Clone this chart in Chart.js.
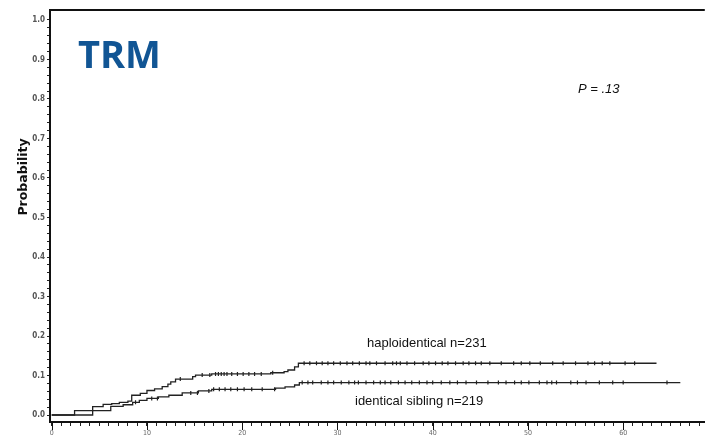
<!DOCTYPE html>
<html>
<head>
<meta charset="utf-8">
<script src="https://cdn.jsdelivr.net/npm/chart.js@4"></script>
<style>
  html, body { margin: 0; padding: 0; background: #fff; }
  #wrap { width: 710px; height: 443px; position: relative; }
</style>
</head>
<body>
<div id="wrap"><canvas id="trmChart"></canvas></div>
<script>
// Kaplan-Meier style cumulative incidence steps (months, probability)
const hapTimes  = [0, 4.3, 5.4, 6.3, 7.1, 8.0, 8.4, 9.3, 10.0, 10.8, 11.6, 12.2, 12.5, 13.0, 14.8, 15.1, 16.8, 23.0, 24.4, 24.8, 25.5, 25.9, 63.5];
const hapValues = [0, 0.021, 0.027, 0.029, 0.032, 0.035, 0.05, 0.055, 0.062, 0.066, 0.072, 0.078, 0.084, 0.091, 0.097, 0.101, 0.104, 0.107, 0.110, 0.114, 0.122, 0.131, 0.131];

const sibTimes  = [0, 2.4, 6.2, 7.5, 8.5, 9.2, 10.0, 11.2, 12.3, 13.7, 15.4, 16.8, 23.5, 24.5, 25.5, 26.0, 66.0];
const sibValues = [0, 0.011, 0.022, 0.026, 0.032, 0.037, 0.042, 0.046, 0.05, 0.056, 0.061, 0.065, 0.068, 0.071, 0.076, 0.082, 0.082];

// censoring times (tick marks on the curves)
const hapCensor = [13.5, 15.8, 16.6, 17.2, 17.5, 17.8, 18.1, 18.4, 18.9, 19.5, 20.1, 20.7, 21.3, 22.0, 23.2, 26.5, 27.1, 27.8, 28.4, 29.0, 29.6, 30.3, 31.0, 31.6, 32.3, 33.0, 33.4, 34.1, 35.0, 35.8, 36.2, 36.6, 37.3, 38.1, 39.0, 39.6, 40.3, 41.0, 41.6, 42.4, 43.2, 43.8, 44.5, 45.1, 46.0, 47.2, 48.5, 49.3, 50.2, 51.3, 52.6, 53.7, 55.0, 56.3, 57.0, 57.8, 58.6, 60.2, 61.2];
const sibCensor = [8.8, 10.5, 11.1, 14.6, 15.3, 16.5, 17.0, 17.6, 18.2, 18.8, 19.5, 20.2, 21.0, 22.1, 23.4, 26.3, 26.9, 27.4, 28.3, 29.0, 29.6, 30.4, 31.2, 31.8, 32.2, 33.0, 33.8, 34.5, 35.0, 35.6, 36.4, 37.1, 37.8, 38.6, 39.4, 40.0, 40.9, 41.8, 42.6, 43.5, 44.6, 45.8, 46.9, 47.7, 48.6, 49.3, 50.1, 51.2, 52.0, 52.5, 53.0, 54.5, 55.2, 56.1, 57.5, 58.9, 60.0, 64.6];

const xTickLabels = [0, 10, 20, 30, 40, 50, 60];
const yTickLabels = [0.0, 0.1, 0.2, 0.3, 0.4, 0.5, 0.6, 0.7, 0.8, 0.9, 1.0];

const seriesNames = ['haploidentical n=231', 'identical sibling n=219'];

// value of a step curve at time t
function stepAt(times, values, t) {
  let v = values[0];
  for (let i = 0; i < times.length; i++) {
    if (times[i] <= t) v = values[i];
  }
  return v;
}

const toPts = (xs, ys) => xs.map((x, i) => ({ x: x, y: ys[i] }));
const censorPts = (cs, times, values) => cs.map(t => ({ x: t, y: stepAt(times, values, t) }));

const lineCol = '#222';

const annotations = {
  id: 'annotations',
  afterDraw(chart) {
    const ctx = chart.ctx;
    const area = chart.chartArea;
    const xs = chart.scales.x;
    ctx.save();
    // top frame line
    ctx.strokeStyle = '#111';
    ctx.lineWidth = 2;
    ctx.beginPath();
    ctx.moveTo(area.left, area.top);
    ctx.lineTo(area.right, area.top);
    ctx.stroke();

    // longer major ticks on x axis
    ctx.lineWidth = 1;
    xTickLabels.forEach(v => {
      const px = Math.round(xs.getPixelForValue(v)) + 0.5;
      ctx.beginPath();
      ctx.moveTo(px, area.bottom);
      ctx.lineTo(px, area.bottom + 8);
      ctx.stroke();
    });

    // title
    ctx.fillStyle = '#115594';
    ctx.font = 'bold 38px "Open Sans", sans-serif';
    ctx.textBaseline = 'alphabetic';
    ctx.fillText('TRM', 78, 68);

    // p-value
    ctx.fillStyle = '#111';
    ctx.font = 'italic 13px "Liberation Sans", Arial, sans-serif';
    ctx.fillText('P = .13', 578, 93);

    // curve labels
    ctx.font = '13px "Liberation Sans", Arial, sans-serif';
    ctx.fillText(seriesNames[0], 367, 347);
    ctx.fillText(seriesNames[1], 355, 405);

    // y axis title
    ctx.translate(27, 177);
    ctx.rotate(-Math.PI / 2);
    ctx.textAlign = 'center';
    ctx.font = 'bold 12.5px "DejaVu Sans", sans-serif';
    ctx.fillText('Probability', 0, 0);
    ctx.restore();
  }
};

new Chart(document.getElementById('trmChart'), {
  type: 'line',
  data: {
    datasets: [
      {
        label: seriesNames[0],
        data: toPts(hapTimes, hapValues),
        stepped: 'before',
        borderColor: lineCol,
        borderWidth: 1.3,
        pointRadius: 0,
        fill: false
      },
      {
        label: seriesNames[1],
        data: toPts(sibTimes, sibValues),
        stepped: 'before',
        borderColor: lineCol,
        borderWidth: 1.3,
        pointRadius: 0,
        fill: false
      },
      {
        type: 'scatter',
        data: censorPts(hapCensor, hapTimes, hapValues),
        pointStyle: 'line',
        rotation: 90,
        pointRadius: 2,
        borderWidth: 1.2,
        borderColor: lineCol,
        showLine: false
      },
      {
        type: 'scatter',
        data: censorPts(sibCensor, sibTimes, sibValues),
        pointStyle: 'line',
        rotation: 90,
        pointRadius: 2,
        borderWidth: 1.2,
        borderColor: lineCol,
        showLine: false
      }
    ]
  },
  options: {
    responsive: true,
    maintainAspectRatio: false,
    animation: false,
    layout: { padding: { top: 10, right: 0, left: 0, bottom: 0 } },
    plugins: {
      legend: { display: false },
      tooltip: { enabled: false }
    },
    scales: {
      x: {
        type: 'linear',
        min: -0.18,
        max: 68.57,
        afterBuildTicks: s => {
          const t = [];
          for (let v = 0; v <= 68; v++) t.push({ value: v });
          s.ticks = t;
        },
        afterFit: s => { s.height = 21; },
        ticks: {
          autoSkip: false,
          maxRotation: 0,
          padding: 3,
          color: '#666',
          font: { family: '"DejaVu Sans Condensed", "DejaVu Sans", sans-serif', size: 7 },
          callback: v => (xTickLabels.includes(v) ? String(v) : '')
        },
        grid: { drawOnChartArea: false, drawTicks: true, tickLength: 4, color: '#222' },
        border: { display: true, color: '#111', width: 2 }
      },
      y: {
        min: -0.0177,
        max: 1.0253,
        afterBuildTicks: s => {
          const t = [];
          for (let i = 0; i <= 50; i++) t.push({ value: i / 50 });
          s.ticks = t;
        },
        afterFit: s => { s.width = 50; },
        ticks: {
          autoSkip: false,
          padding: 2,
          color: '#555',
          font: { family: '"DejaVu Sans Condensed", "DejaVu Sans", sans-serif', size: 8, weight: 'bold' },
          callback: v => {
            const lab = yTickLabels.find(y => Math.abs(y - v) < 1e-6);
            return lab === undefined ? '' : lab.toFixed(1);
          }
        },
        grid: { drawOnChartArea: false, drawTicks: true, tickLength: 3, color: '#222' },
        border: { display: true, color: '#111', width: 2 }
      }
    }
  },
  plugins: [annotations]
});
</script>
</body>
</html>
